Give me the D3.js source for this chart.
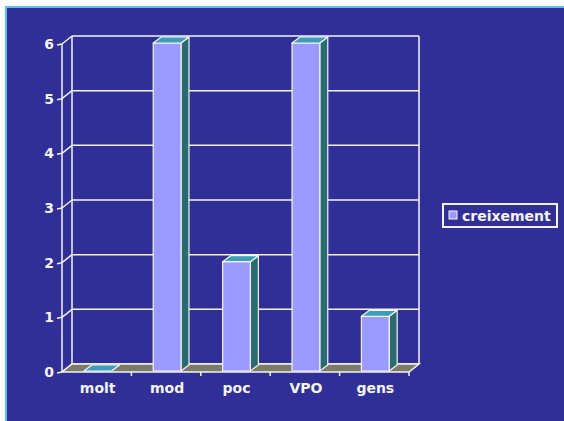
<!DOCTYPE html>
<html><head><meta charset="utf-8">
<script src="https://cdn.jsdelivr.net/npm/d3@7"></script>
<style>html,body{margin:0;padding:0;background:#fff;}svg{display:block;}</style>
</head><body>
<script>
const categories = ["molt", "mod", "poc", "VPO", "gens"];
const values = [0, 6, 2, 6, 1];
const seriesName = "creixement";
const yTicks = [0, 1, 2, 3, 4, 5, 6];

const W = 564, H = 421;
const svg = d3.select("body").append("svg").attr("width", W).attr("height", H);

// background
svg.append("rect").attr("x", 0).attr("y", 0).attr("width", W).attr("height", H).attr("fill", "#ffffff");
svg.append("rect").attr("x", 5).attr("y", 6).attr("width", W - 5).attr("height", H - 6).attr("fill", "#5fc0e8");
svg.append("rect").attr("x", 7).attr("y", 8).attr("width", W - 7).attr("height", H - 8).attr("fill", "#302f98");

const x = d3.scaleBand().domain(categories).range([62, 409]);
const y = d3.scaleLinear().domain([0, 6]).range([372, 44]);
const DX = 10, DY = -8;      // full depth
const bdx = 8, bdy = -6;     // bar depth
const ox = 1, oy = -1;       // bar offset into depth
const white = "#f4f4f4";
const font = "'DejaVu Sans', Verdana, sans-serif";

const g = svg.append("g");
const line = (x1, y1, x2, y2, w) => g.append("line").attr("x1", x1).attr("y1", y1).attr("x2", x2).attr("y2", y2)
  .attr("stroke", white).attr("stroke-width", w || 1.5);

const x0 = x.range()[0], x1 = x.range()[1];
// back wall gridlines
yTicks.forEach(t => {
  line(x0 + DX, y(t) + DY, x1 + DX, y(t) + DY);
  // side wall lines
  line(x0, y(t), x0 + DX, y(t) + DY);
  // tick mark
  line(x0 - 5, y(t) + 1, x0, y(t));
});
line(x0 + DX, y(0) + DY, x0 + DX, y(6) + DY);
line(x1 + DX, y(0) + DY, x1 + DX, y(6) + DY);
// front axis
line(x0, y(0), x0, y(6));

// floor
g.append("path").attr("d", `M${x0},${y(0)}L${x1},${y(0)}L${x1 + DX},${y(0) + DY}L${x0 + DX},${y(0) + DY}Z`)
  .attr("fill", "#7e7a68").attr("stroke", white).attr("stroke-width", 1.5);
// category ticks
categories.forEach(c => {
  const xe = x(c) + x.bandwidth();
  line(xe, y(0), xe, y(0) + 4);
});

// bars
const bw = x.bandwidth() * 0.4;
categories.forEach((c, i) => {
  const v = values[i];
  const cx = x(c) + x.bandwidth() / 2 + ox;
  const l = cx - bw / 2, r = cx + bw / 2;
  const b = y(0) + oy, t = y(v) + oy;
  const bg = g.append("g").attr("stroke", white).attr("stroke-width", 1.2).attr("stroke-linejoin", "round");
  if (v > 0) {
    bg.append("path").attr("d", `M${r},${b}L${r + bdx},${b + bdy}L${r + bdx},${t + bdy}L${r},${t}Z`).attr("fill", "#2a6b70");
    bg.append("path").attr("d", `M${l},${b}L${r},${b}L${r},${t}L${l},${t}Z`).attr("fill", "#9b9bff");
  }
  bg.append("path").attr("d", `M${l},${t}L${r},${t}L${r + bdx},${t + bdy}L${l + bdx},${t + bdy}Z`).attr("fill", "#3d9dbb");
});

// y labels
yTicks.forEach(t => {
  svg.append("text").attr("x", 54).attr("y", y(t) + 5).attr("text-anchor", "end")
    .attr("font-family", font).attr("font-weight", "bold").attr("font-size", 14).attr("fill", white).text(t);
});
// x labels
categories.forEach(c => {
  svg.append("text").attr("x", x(c) + x.bandwidth() / 2 + 1).attr("y", 393).attr("text-anchor", "middle")
    .attr("font-family", font).attr("font-weight", "bold").attr("font-size", 14).attr("fill", white).text(c);
});

// legend
const lg = svg.append("g");
lg.append("rect").attr("x", 443).attr("y", 204).attr("width", 114).attr("height", 23)
  .attr("fill", "none").attr("stroke", white).attr("stroke-width", 2);
lg.append("rect").attr("x", 449).attr("y", 211).attr("width", 8).attr("height", 8)
  .attr("fill", "#9b9bff").attr("stroke", white).attr("stroke-width", 1);
lg.append("text").attr("x", 462).attr("y", 221).attr("font-family", font).attr("font-weight", "bold")
  .attr("font-size", 14).attr("fill", white).text(seriesName);
</script>
</body></html>
